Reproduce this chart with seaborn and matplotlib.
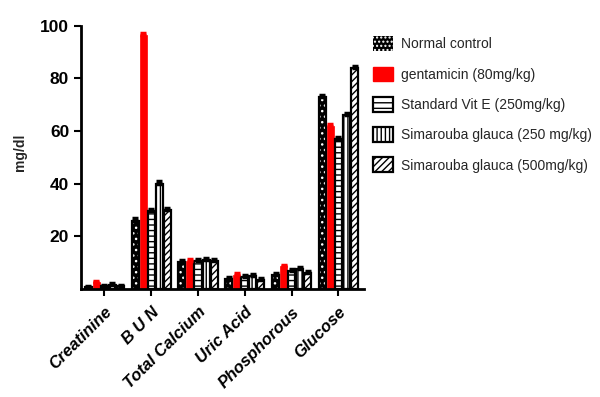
import numpy as np
import pandas as pd
import matplotlib
matplotlib.use("Agg")
import matplotlib.pyplot as plt
from matplotlib.patches import Patch, Rectangle
import seaborn as sns

# parameters on the x axis
params = ["Creatinine", "B U N", "Total Calcium", "Uric Acid", "Phosphorous", "Glucose"]

groups = ["Normal control", "gentamicin (80mg/kg)", "Standard Vit E (250mg/kg)",
          "Simarouba glauca (250 mg/kg)", "Simarouba glauca (500mg/kg)"]

# mean values (mg/dl)
normal_control = [0.8, 26.0, 10.3, 3.8, 5.5, 73.0]
gentamicin     = [2.6, 96.5, 10.5, 5.5, 8.6, 62.0]
vit_e          = [1.0, 29.5, 10.5, 4.6, 7.0, 57.0]
sg_250         = [1.5, 40.0, 11.0, 5.0, 7.6, 66.0]
sg_500         = [1.0, 30.0, 10.5, 3.6, 6.0, 84.0]

# SEM
err_normal = [0.5, 0.9, 0.8, 0.6, 0.7, 0.8]
err_gent   = [0.6, 0.8, 0.9, 0.6, 0.7, 0.8]
err_vite   = [0.5, 0.9, 0.8, 0.6, 0.7, 0.8]
err_sg250  = [0.6, 0.9, 0.9, 0.7, 0.7, 0.8]
err_sg500  = [0.6, 0.9, 0.8, 0.6, 0.7, 0.8]

values = [normal_control, gentamicin, vit_e, sg_250, sg_500]
errors = [err_normal, err_gent, err_vite, err_sg250, err_sg500]

df = pd.DataFrame({
    "param": params * len(groups),
    "group": np.repeat(groups, len(params)),
    "value": np.concatenate(values),
})

sns.set_style("white")
plt.rcParams["font.family"] = ["Liberation Sans", "DejaVu Sans"]
plt.rcParams["hatch.linewidth"] = 1.0

# face colour, hatch
styles = [
    ("black", "..."),
    ("#ff0000", None),
    ("white", "---"),
    ("white", "||||"),
    ("white", "/////"),
]

fig = plt.figure(figsize=(6.0, 3.97), dpi=100)
ax = fig.add_axes([0.135, 0.272, 0.472, 0.663])

sns.barplot(data=df, x="param", y="value", hue="group", order=params,
            hue_order=groups, width=0.86, gap=0.12, legend=False, ax=ax)

bar_conts = list(ax.containers)
for i, cont in enumerate(bar_conts):
    fc, hatch = styles[i]
    ecol = "#ff0000" if i == 1 else "black"
    for j, bar in enumerate(cont):
        x0, w, h = bar.get_x(), bar.get_width(), bar.get_height()
        if i == 0:
            bar.set_facecolor("black")
            bar.set_edgecolor("white")
            bar.set_hatch(hatch)
            bar.set_linewidth(0)
            ax.add_patch(Rectangle((x0, 0), w, h, fill=False, ec="black", lw=1.6, zorder=3))
        elif i == 1:
            bar.set_facecolor(fc)
            bar.set_edgecolor("#ff0000")
            bar.set_linewidth(0.5)
        else:
            bar.set_facecolor(fc)
            bar.set_edgecolor("black")
            bar.set_hatch(hatch)
            bar.set_linewidth(1.6)
        ax.errorbar(x0 + w / 2, h, yerr=[[0], [errors[i][j]]], fmt="none",
                    ecolor=ecol, elinewidth=1.5, capsize=2.5, capthick=2.5, zorder=4)

ax.set_xlim(-0.5, 5.55)
ax.set_ylim(0, 100)
ax.set_yticks([20, 40, 60, 80, 100])
ax.set_xlabel("")
ax.set_ylabel("mg/dl", fontsize=10, fontweight="bold")
ax.yaxis.set_label_coords(-0.19, 0.52)

sns.despine(ax=ax)
for side in ["left", "bottom"]:
    ax.spines[side].set_linewidth(2)
    ax.spines[side].set_color("black")
ax.tick_params(axis="both", direction="out", length=5, width=1.5, colors="black",
               left=True, bottom=True)
ax.tick_params(axis="x", pad=6)
for lab in ax.get_yticklabels():
    lab.set_fontsize(12.5)
    lab.set_fontweight("bold")
ax.set_xticks(range(len(params)))
ax.set_xticklabels(params, rotation=45, ha="right", rotation_mode="anchor",
                   fontsize=12, fontweight="bold", fontstyle="italic")

handles = []
for i, g in enumerate(groups):
    fc, hatch = styles[i]
    if i == 0:
        handles.append(Patch(facecolor="black", edgecolor="white", hatch="....",
                             label=g, linewidth=0))
    elif i == 1:
        handles.append(Patch(facecolor=fc, edgecolor=fc, label=g))
    else:
        handles.append(Patch(facecolor=fc, edgecolor="black", hatch=hatch, lw=1.6, label=g))

fig.legend(handles=handles, loc="upper left", bbox_to_anchor=(0.6, 0.94),
           frameon=False, fontsize=10, handlelength=1.45, handleheight=1.25,
           labelspacing=1.1, handletextpad=0.6)

fig.savefig("out.png", dpi=100)
